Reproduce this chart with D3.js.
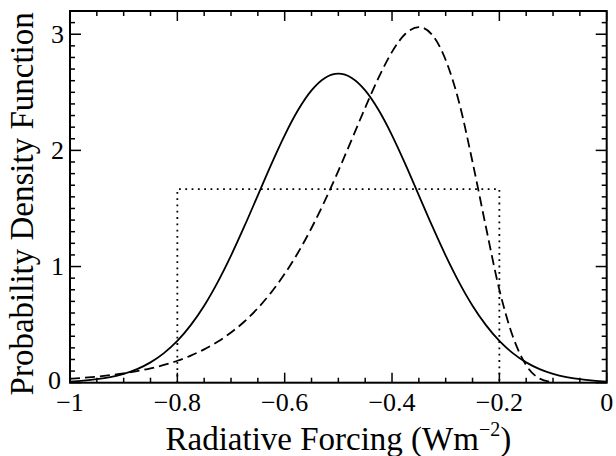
<!DOCTYPE html>
<html>
<head>
<meta charset="utf-8">
<script src="https://cdn.jsdelivr.net/npm/d3@7"></script>
<style>
  body { margin: 0; background: #fff; }
  svg text { font-family: "Liberation Serif", "DejaVu Serif", serif; }
</style>
</head>
<body>
<svg id="chart" width="616" height="456"></svg>
<script>
// forcing values (Wm-2) where the curves were read
const xs = [-1, -0.975, -0.95, -0.925, -0.9, -0.875, -0.85, -0.825, -0.8, -0.775,
  -0.75, -0.725, -0.7, -0.675, -0.65, -0.625, -0.6, -0.575, -0.55, -0.525,
  -0.5, -0.475, -0.45, -0.425, -0.4, -0.375, -0.35, -0.325, -0.3, -0.275,
  -0.25, -0.225, -0.2, -0.175, -0.15, -0.125, -0.1, -0.075, -0.05, -0.025, 0]

// solid curve
const pdfSolid = [0.010, 0.018, 0.030, 0.048, 0.076, 0.117, 0.175, 0.255, 0.360, 0.496,
  0.663, 0.864, 1.094, 1.347, 1.613, 1.880, 2.130, 2.347, 2.516, 2.623,
  2.660, 2.623, 2.516, 2.347, 2.130, 1.880, 1.613, 1.347, 1.094, 0.864,
  0.663, 0.496, 0.360, 0.255, 0.175, 0.117, 0.076, 0.048, 0.030, 0.018, 0.010]

// dashed curve (stops where it meets the axis)
const pdfDashed = [0.034, 0.042, 0.052, 0.065, 0.080, 0.100, 0.123, 0.153, 0.189, 0.233,
  0.287, 0.352, 0.432, 0.527, 0.642, 0.778, 0.937, 1.121, 1.332, 1.567,
  1.824, 2.094, 2.368, 2.627, 2.848, 3.004, 3.062, 2.994, 2.778, 2.413,
  1.900, 1.340, 0.800, 0.400, 0.150, 0.035, 0.004]

// dotted box
const boxX = [-0.8, -0.8, -0.2, -0.2]
const boxY = [0, 1.667, 1.667, 0]

const xTicks = [-1, -0.8, -0.6, -0.4, -0.2, 0]
const yTicks = [0, 1, 2, 3]

const svg = d3.select("#chart")
const width = 616
const height = 456
const margin = { top: 11, right: 9.3, bottom: 73.3, left: 70 }
const iw = width - margin.left - margin.right
const ih = height - margin.top - margin.bottom

const x = d3.scaleLinear().domain([-1, 0]).range([0, iw])
const y = d3.scaleLinear().domain([0, 3.2]).range([ih, 0])

const g = svg.append("g").attr("transform", `translate(${margin.left},${margin.top})`)

const clip = svg.append("defs").append("clipPath").attr("id", "plotclip")
clip.append("rect").attr("width", iw).attr("height", ih)

const plot = g.append("g").attr("clip-path", "url(#plotclip)")

const line = d3.line().x((d) => x(d[0])).y((d) => y(d[1])).curve(d3.curveMonotoneX)

plot.append("path")
  .datum(boxX.map((v, i) => [v, boxY[i]]))
  .attr("d", d3.line().x((d) => x(d[0])).y((d) => y(d[1])))
  .attr("fill", "none")
  .attr("stroke", "#000")
  .attr("stroke-width", 1.8)
  .attr("stroke-dasharray", "1.8,4.5")

plot.append("path")
  .datum(xs.map((v, i) => [v, pdfSolid[i]]))
  .attr("d", line)
  .attr("fill", "none")
  .attr("stroke", "#000")
  .attr("stroke-width", 1.8)

plot.append("path")
  .datum(pdfDashed.map((v, i) => [xs[i], v]))
  .attr("d", line)
  .attr("fill", "none")
  .attr("stroke", "#000")
  .attr("stroke-width", 1.8)
  .attr("stroke-dasharray", "10,5")

// ticks pointing inward on all four sides
const xMinor = d3.range(-1, 0.0001, 0.05).map((v) => +v.toFixed(2))
const yMinor = d3.range(0, 3.2001, 0.1).map((v) => +v.toFixed(1))

function tickLen(v, majors, big, small) {
  return majors.some((m) => Math.abs(m - v) < 1e-6) ? big : small
}

const tk = g.append("g").attr("stroke", "#000").attr("stroke-width", 1.5)
xMinor.forEach((v) => {
  const l = tickLen(v, xTicks, 10, 5)
  tk.append("line").attr("x1", x(v)).attr("x2", x(v)).attr("y1", ih).attr("y2", ih - l)
  tk.append("line").attr("x1", x(v)).attr("x2", x(v)).attr("y1", 0).attr("y2", l)
})
yMinor.forEach((v) => {
  const l = tickLen(v, yTicks, 11, 5)
  tk.append("line").attr("y1", y(v)).attr("y2", y(v)).attr("x1", 0).attr("x2", l)
  tk.append("line").attr("y1", y(v)).attr("y2", y(v)).attr("x1", iw).attr("x2", iw - l)
})

g.append("rect")
  .attr("width", iw)
  .attr("height", ih)
  .attr("fill", "none")
  .attr("stroke", "#000")
  .attr("stroke-width", 2)

const fmt = (d) => (d === 0 ? "0" : d3.format("")(d))

g.selectAll(".xlab").data(xTicks).enter().append("text")
  .attr("class", "xlab")
  .attr("x", (d) => x(d))
  .attr("y", ih + 28)
  .attr("text-anchor", "middle")
  .attr("font-size", 26)
  .text(fmt)

g.selectAll(".ylab").data(yTicks).enter().append("text")
  .attr("class", "ylab")
  .attr("x", (d) => (d === 0 ? -9 : -6))
  .attr("y", (d) => y(d))
  .attr("dy", (d) => (d === 0 ? "0.24em" : "0.34em"))
  .attr("text-anchor", "end")
  .attr("font-size", 26)
  .text(fmt)

const xt = svg.append("text")
  .attr("x", margin.left + iw / 2)
  .attr("y", 450)
  .attr("text-anchor", "middle")
  .attr("font-size", 33)
xt.append("tspan").text("Radiative Forcing (Wm")
xt.append("tspan").attr("font-size", 20).attr("dy", -14).text("\u22122")
xt.append("tspan").attr("dy", 14).text(")")

svg.append("text")
  .attr("transform", `translate(33,${margin.top + ih / 2 + 7}) rotate(-90)`)
  .attr("text-anchor", "middle")
  .attr("font-size", 33)
  .text("Probability Density Function")
</script>
</body>
</html>
